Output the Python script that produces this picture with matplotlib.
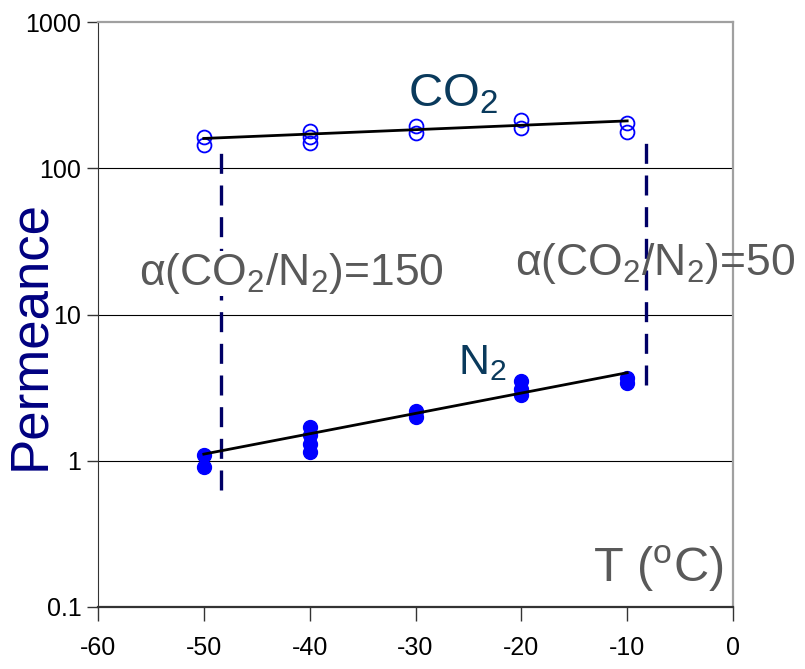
import matplotlib
matplotlib.use("Agg")
import matplotlib.pyplot as plt
from matplotlib import font_manager

names = {f.name for f in font_manager.fontManager.ttflist}
tick_font = "Liberation Sans Narrow" if "Liberation Sans Narrow" in names else "Liberation Sans"

plt.rcParams["font.family"] = ["Liberation Sans", "DejaVu Sans"]
plt.rcParams["mathtext.fontset"] = "custom"
plt.rcParams["mathtext.rm"] = "Liberation Sans"
plt.rcParams["mathtext.it"] = "Liberation Sans"
plt.rcParams["axes.unicode_minus"] = False

# data
co2_T = [-50, -50, -40, -40, -40, -30, -30, -20, -20, -10, -10]
co2_P = [164, 144, 180, 165, 150, 195, 173, 214, 190, 203, 178]
n2_T = [-50, -50, -40, -40, -40, -40, -30, -30, -20, -20, -20, -10, -10]
n2_P = [1.10, 0.90, 1.70, 1.50, 1.30, 1.15, 2.20, 2.00, 3.50, 3.10, 2.80, 3.70, 3.40]
fit_T = [-50, -10]
co2_fit = [160, 211]
n2_fit = [1.11, 4.0]
sel_left_T = -48.4
sel_left_P = [0.63, 133]
sel_right_T = -8.2
sel_right_P = [3.3, 160]
x_ticks = [-60, -50, -40, -30, -20, -10, 0]
y_ticks = [0.1, 1, 10, 100, 1000]
y_labels = ["0.1", "1", "10", "100", "1000"]

fig = plt.figure(figsize=(8.05, 6.69), dpi=100)
ax = fig.add_axes([0.1217, 0.0927, 0.7889, 0.8743])
ax.set_yscale("log")
ax.set_xlim(-60, 0)
ax.set_ylim(0.1, 1000)

for v in [1, 10, 100]:
    ax.axhline(v, color="black", lw=0.8, zorder=1)

ax.plot([sel_left_T, sel_left_T], sel_left_P, color="#000066", lw=2.4,
        dashes=(6, 3.5), zorder=2)
ax.plot([sel_right_T, sel_right_T], sel_right_P, color="#000066", lw=2.4,
        dashes=(6, 3.5), zorder=2)

ax.plot(co2_T, co2_P, "o", ms=10, mfc="none", mec="#0000ff", mew=1.3, zorder=3)
ax.plot(n2_T, n2_P, "o", ms=10, mfc="#0000ff", mec="#0000ff", zorder=3)
ax.plot(fit_T, co2_fit, color="black", lw=2, zorder=4)
ax.plot(fit_T, n2_fit, color="black", lw=2, zorder=4)

ax.set_xticks(x_ticks)
ax.set_xticklabels([str(t) for t in x_ticks])
ax.set_yticks(y_ticks)
ax.set_yticklabels(y_labels)
ax.yaxis.set_minor_locator(matplotlib.ticker.NullLocator())
ax.tick_params(axis="both", direction="out", length=8, width=1, color="#333333",
               labelsize=18, pad=4)
ax.tick_params(axis="x", length=10, pad=11)
for lab in ax.get_xticklabels() + ax.get_yticklabels():
    lab.set_family(tick_font)

ax.spines["left"].set_color("#333333")
ax.spines["bottom"].set_color("#333333")
ax.spines["bottom"].set_linewidth(1.6)
ax.spines["top"].set_color("#a0a0a0")
ax.spines["right"].set_color("#a0a0a0")
ax.spines["top"].set_linewidth(1.6)
ax.spines["right"].set_linewidth(1.6)

ax.set_ylabel("Permeance", fontsize=38, color="#000080")
ax.yaxis.set_label_coords(-0.068, 0.465)

white = dict(facecolor="white", edgecolor="none", pad=0)
ax.text(-30.7, 264, "CO$_2$", fontsize=34, color="#0a3a5c")
ax.text(-26.0, 3.9, "N$_2$", fontsize=31, color="#0a3a5c")
ax.text(-56.1, 15.9, "α(CO$_2$/N$_2$)=150", fontsize=32, color="#595959",
        bbox=white, zorder=5)
ax.text(-20.6, 18.7, "α(CO$_2$/N$_2$)=50", fontsize=32, color="#595959",
        clip_on=False, zorder=5)
ax.text(-13.2, 0.149, "T ($^\\mathrm{o}$C)", fontsize=35, color="#595959")

fig.savefig("out.png", dpi=100)
